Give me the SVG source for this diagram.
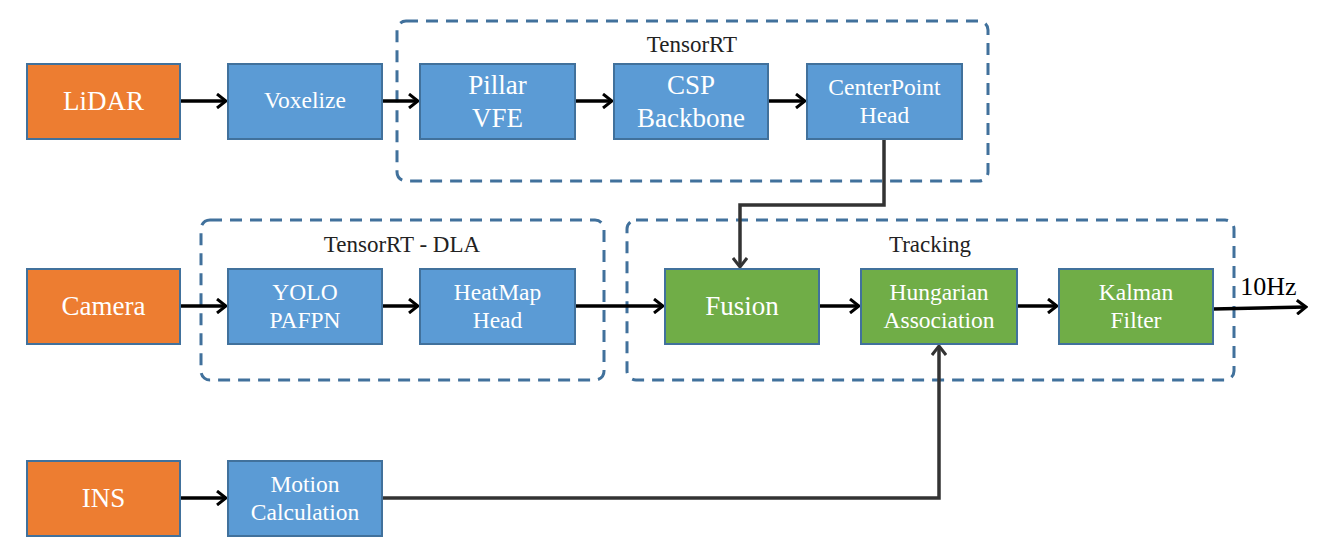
<svg xmlns="http://www.w3.org/2000/svg" width="1325" height="559" viewBox="0 0 1325 559">
<defs>
<style>
.n rect{stroke:#41719C;stroke-width:2}
.o{fill:#ED7D31}.b{fill:#5B9BD5}.g{fill:#70AD47}
.n text{fill:#fff;font-family:"Liberation Serif",serif;text-anchor:middle}
.L{font-size:27px}.S{font-size:23.5px}
.grp{fill:none;stroke:#41719C;stroke-width:3;stroke-dasharray:12 8}
.lbl{fill:#222;font-family:"Liberation Serif",serif;font-size:23px;text-anchor:middle}
.a{fill:none;stroke:#000;stroke-width:3.5}
.d{fill:none;stroke:#333;stroke-width:3.5}
</style>
<marker id="ah" viewBox="0 0 12 16" refX="10" refY="8" markerWidth="12" markerHeight="16" markerUnits="userSpaceOnUse" orient="auto">
<path d="M1,1 L10,8 L1,15" fill="none" stroke="#000" stroke-width="3"/>
</marker>
<marker id="ahd" viewBox="0 0 12 16" refX="10" refY="8" markerWidth="12" markerHeight="16" markerUnits="userSpaceOnUse" orient="auto">
<path d="M1,1 L10,8 L1,15" fill="none" stroke="#333" stroke-width="3"/>
</marker>
</defs>
<rect width="1325" height="559" fill="#fff"/>
<g id="groups">
<rect class="grp" x="397" y="21" width="591" height="160" rx="9"/>
<text class="lbl" x="692" y="52">TensorRT</text>
<rect class="grp" x="201" y="220" width="403" height="160" rx="9"/>
<text class="lbl" x="402" y="252">TensorRT - DLA</text>
<rect class="grp" x="627" y="220" width="607" height="160" rx="9"/>
<text class="lbl" x="930" y="252">Tracking</text>
</g>
<g id="connectors">
<line class="a" x1="180" y1="101" x2="226" y2="101" marker-end="url(#ah)"/>
<line class="a" x1="382" y1="101" x2="418" y2="101" marker-end="url(#ah)"/>
<line class="a" x1="575" y1="101" x2="612" y2="101" marker-end="url(#ah)"/>
<line class="a" x1="768" y1="101" x2="805" y2="101" marker-end="url(#ah)"/>
<line class="a" x1="180" y1="306" x2="226" y2="306" marker-end="url(#ah)"/>
<line class="a" x1="382" y1="306" x2="418" y2="306" marker-end="url(#ah)"/>
<line class="a" x1="575" y1="306" x2="663" y2="306" marker-end="url(#ah)"/>
<line class="a" x1="819" y1="306" x2="859" y2="306" marker-end="url(#ah)"/>
<line class="a" x1="1017" y1="306" x2="1057" y2="306" marker-end="url(#ah)"/>
<line class="a" x1="1213" y1="309" x2="1306" y2="307" marker-end="url(#ah)"/>
<line class="a" x1="180" y1="498" x2="226" y2="498" marker-end="url(#ah)"/>
<polyline class="d" points="884,139 884,205 740,205 740,267" marker-end="url(#ahd)"/>
<polyline class="d" points="382,498 939,498 939,346" marker-end="url(#ahd)"/>
<text x="1268.5" y="295" font-family="Liberation Serif,serif" font-size="26" text-anchor="middle" fill="#000">10Hz</text>
</g>
<g id="lidar" class="n"><rect class="o" x="27" y="64" width="153" height="75"/><text class="L" x="103.5" y="110">LiDAR</text></g>
<g id="voxelize" class="n"><rect class="b" x="228" y="64" width="154" height="75"/><text class="S" x="305" y="108">Voxelize</text></g>
<g id="pillar" class="n"><rect class="b" x="420" y="64" width="155" height="75"/><text class="L" x="497.5" y="94">Pillar</text><text class="L" x="497.5" y="126.5">VFE</text></g>
<g id="csp" class="n"><rect class="b" x="614" y="64" width="154" height="75"/><text class="L" x="691" y="94">CSP</text><text class="L" x="691" y="126.5">Backbone</text></g>
<g id="centerpoint" class="n"><rect class="b" x="807" y="64" width="155" height="75"/><text class="S" x="884.5" y="95">CenterPoint</text><text class="S" x="884.5" y="122.5">Head</text></g>
<g id="camera" class="n"><rect class="o" x="27" y="269" width="153" height="75"/><text class="L" x="103.5" y="315">Camera</text></g>
<g id="yolo" class="n"><rect class="b" x="228" y="269" width="154" height="75"/><text class="S" x="305" y="300">YOLO</text><text class="S" x="305" y="328">PAFPN</text></g>
<g id="heatmap" class="n"><rect class="b" x="420" y="269" width="155" height="75"/><text class="S" x="497.5" y="300">HeatMap</text><text class="S" x="497.5" y="328">Head</text></g>
<g id="fusion" class="n"><rect class="g" x="665" y="269" width="154" height="75"/><text class="L" x="742" y="315">Fusion</text></g>
<g id="hungarian" class="n"><rect class="g" x="861" y="269" width="156" height="75"/><text class="S" x="939" y="300">Hungarian</text><text class="S" x="939" y="328">Association</text></g>
<g id="kalman" class="n"><rect class="g" x="1059" y="269" width="154" height="75"/><text class="S" x="1136" y="300">Kalman</text><text class="S" x="1136" y="328">Filter</text></g>
<g id="ins" class="n"><rect class="o" x="27" y="461" width="153" height="75"/><text class="L" x="103.5" y="507">INS</text></g>
<g id="motion" class="n"><rect class="b" x="228" y="461" width="154" height="75"/><text class="S" x="305" y="492">Motion</text><text class="S" x="305" y="520">Calculation</text></g>
</svg>
